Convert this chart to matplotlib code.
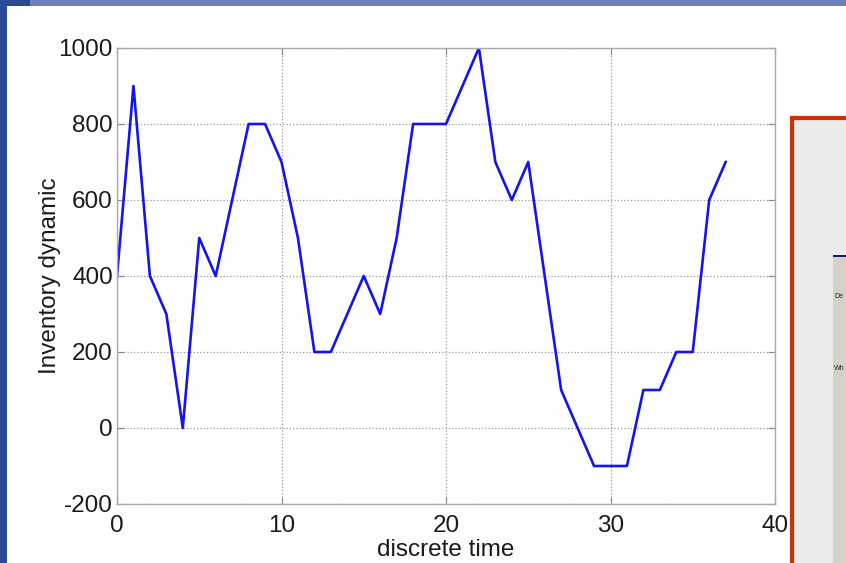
import matplotlib
matplotlib.use("Agg")
import matplotlib.pyplot as plt
from matplotlib.patches import Rectangle

# inventory level per discrete time step
t = list(range(38))
inventory = [400, 900, 400, 300, 0, 500, 400, 600, 800, 800,
             700, 500, 200, 200, 300, 400, 300, 500, 800, 800,
             800, 900, 1000, 700, 600, 700, 400, 100, 0, -100,
             -100, -100, 100, 100, 200, 200, 600, 700]
x_ticks = [0, 10, 20, 30, 40]
y_ticks = [-200, 0, 200, 400, 600, 800, 1000]

W, H = 846, 563
plt.rcParams['font.family'] = ['Liberation Sans', 'DejaVu Sans']
plt.rcParams['axes.unicode_minus'] = False

fig = plt.figure(figsize=(W / 100, H / 100), dpi=100, facecolor='white')


def box(x0, y0, x1, y1, **kw):
    # rectangle given in pixel coords (origin top-left)
    r = Rectangle((x0 / W, 1 - y1 / H), (x1 - x0) / W, (y1 - y0) / H,
                  transform=fig.transFigure, **kw)
    fig.add_artist(r)
    return r


# slide background around the pasted figure
box(0, 0, W, 6, facecolor='#6f80b6', edgecolor='none', zorder=-5)
box(0, 0, 30, 6, facecolor='#2d4894', edgecolor='none', zorder=-4)
box(0, 0, 7, H, facecolor='#2d4a98', edgecolor='none', zorder=-4)

# red framed box on the right (cut off by the slide edge)
box(792, 118, W + 10, H + 10, facecolor='#ebebeb', edgecolor='#cc3300',
    linewidth=3, zorder=-3)
box(833, 256, W + 10, H + 10, facecolor='#d5d1c9', edgecolor='none', zorder=-2)
box(833, 255, W + 10, 257, facecolor='#0a246a', edgecolor='none', zorder=-1)
fig.text(834 / W, 1 - 296 / H, 'De', fontsize=5, va='center', color='#222222')
fig.text(834 / W, 1 - 369 / H, 'Wh', fontsize=5, va='center', color='#222222')

ax = fig.add_axes([117 / W, 1 - 504 / H, (775 - 117) / W, (504 - 48) / H])
ax.plot(t, inventory, color='#1414f0', linewidth=1.9)

ax.set_xlim(0, 40)
ax.set_ylim(-200, 1000)
ax.set_xticks(x_ticks)
ax.set_yticks(y_ticks)
ax.grid(True, linestyle=':', color='#9a9a9a', linewidth=0.9)
ax.tick_params(direction='in', length=5, width=0.8, color='#888888',
               labelsize=17.5, labelcolor='#1a1a1a', top=True, right=True)
ax.tick_params(axis='x', pad=8)
ax.tick_params(axis='y', pad=3)
for s in ax.spines.values():
    s.set_color('#aaaaaa')
    s.set_linewidth(1.0)

ax.set_xlabel('discrete time', fontsize=17.5, color='#1a1a1a', labelpad=1)
ax.set_ylabel('Inventory dynamic', fontsize=17.5, color='#1a1a1a', labelpad=-2)

fig.savefig('out.png', dpi=100, facecolor='white')
